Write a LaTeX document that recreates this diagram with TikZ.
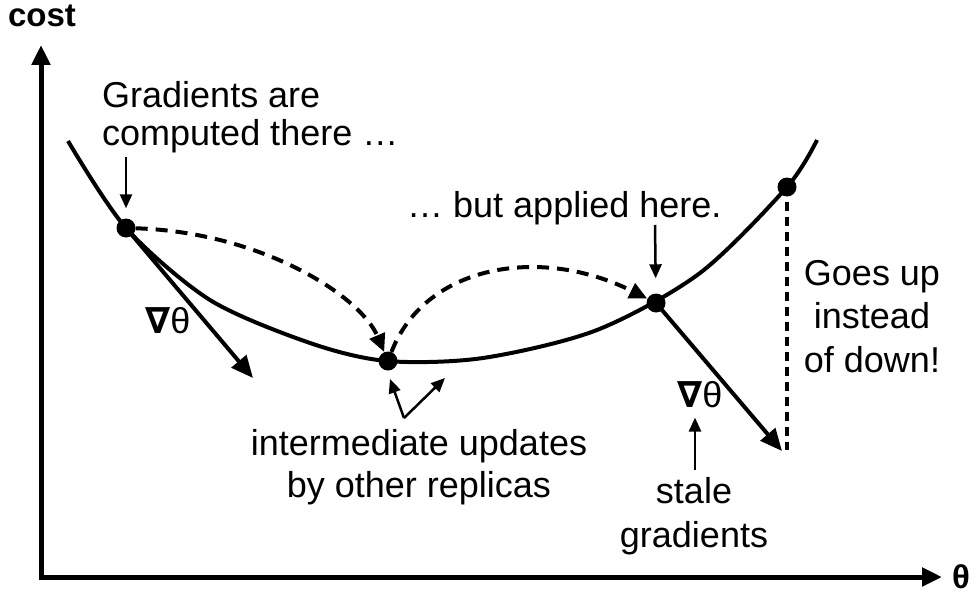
\documentclass[tikz,border=0pt]{standalone}
\usepackage{fontspec}
\setmainfont{Liberation Sans}
\newfontfamily\nabfont{DejaVu Sans}
\usepackage{tikz}
\usetikzlibrary{arrows.meta,positioning,calc}
\newcommand{\nab}{{\nabfont\bfseries ∇}}
\tikzstyle{dot}=[fill=black,circle,minimum size=19pt,inner sep=0pt]
\tikzstyle{lbl}=[font=\fontsize{36}{42}\selectfont,inner sep=0pt]
\tikzstyle{axis}=[line width=5pt,{Triangle[length=20pt,width=18pt]}-{Triangle[length=20pt,width=18pt]}]
\tikzstyle{curve}=[line width=4pt]
\tikzstyle{grad}=[line width=4pt,-{Triangle[length=22pt,width=19pt]}]
\tikzstyle{jump}=[line width=4pt,dash pattern=on 12pt off 8pt,-{Triangle[length=18pt,width=16pt]}]
\tikzstyle{pointer}=[line width=2.5pt,-{Triangle[length=14pt,width=12pt]}]

\begin{document}
\begin{tikzpicture}[x=1pt,y=-1pt]
\useasboundingbox (0,0) rectangle (977,594);
% axes
\coordinate (O) at (41,577);
\coordinate (ytip) at (41,45);
\coordinate (xtip) at (942,577);
\draw[axis] (ytip) -- (O) -- (xtip);
\node[font=\fontsize{33}{40}\selectfont\bfseries,inner sep=0pt,anchor=base] (ylab) at (42,27) {cost};
\node[font=\fontsize{33}{40}\selectfont\bfseries,inner sep=0pt,anchor=base] (xlab) at (961,588) {θ};
% cost curve
\draw[curve] plot[smooth] coordinates {(68,141) (126,228) (210,300) (310,343) (387,361)
  (483,358) (597,330) (700,273) (787,187) (817,140)};
\node[dot] (A) at (126,228) {};
\node[dot] (B) at (388,361) {};
\node[dot] (C) at (656,303) {};
\node[dot] (D) at (787,187) {};
% gradients
\coordinate (gA) at (253,378);
\coordinate (gC) at (782,451);
\coordinate (gD) at (787,450);
\draw[grad] (A.center) -- (gA);
\draw[grad] (C.center) -- (gC);
\draw[line width=4.5pt,dash pattern=on 9pt off 6pt] (D.center) -- (gD);
\draw[jump] (A) .. controls (260,232) and (360,295) .. (B);
\draw[jump] (B) .. controls (425,265) and (540,245) .. (C);
% labels
\node[lbl,anchor=base west,align=left,font=\fontsize{36}{38}\selectfont] (txtA) at (102,145) {Gradients are\\computed there …};
\node[lbl,anchor=base west] (txtC) at (407,217) {… but applied here.};
\node[lbl,anchor=base,align=center,font=\fontsize{36}{43.5}\selectfont] (txtD) at (872,372) {Goes up\\instead\\of down!};
\node[lbl,anchor=base,align=center] (txtB) at (419,497) {intermediate updates\\by other replicas};
\node[lbl,anchor=base,align=center,font=\fontsize{36}{44}\selectfont] (txtS) at (694,547) {stale\\gradients};
\node[lbl,anchor=base west] (gradL) at (145,333) {\nab θ};
\node[lbl,anchor=base west] (gradR) at (677,407) {\nab θ};
% pointers
\coordinate (pA) at (126,157);
\coordinate (pC) at (655,225);
\coordinate (pS) at (695,470);
\coordinate (pB) at (404,418);
\coordinate (tB1) at (390,379);
\coordinate (tB2) at (445,378);
\draw[pointer,shorten >=10pt] (pA) -- (A);
\draw[pointer,shorten >=15pt] (pC) -- (C);
\draw[pointer,shorten >=10pt] (pS) -- (pS |- gradR.south);
\draw[pointer] (pB) -- (tB1);
\draw[pointer] (pB) -- (tB2);
\end{tikzpicture}
\end{document}
